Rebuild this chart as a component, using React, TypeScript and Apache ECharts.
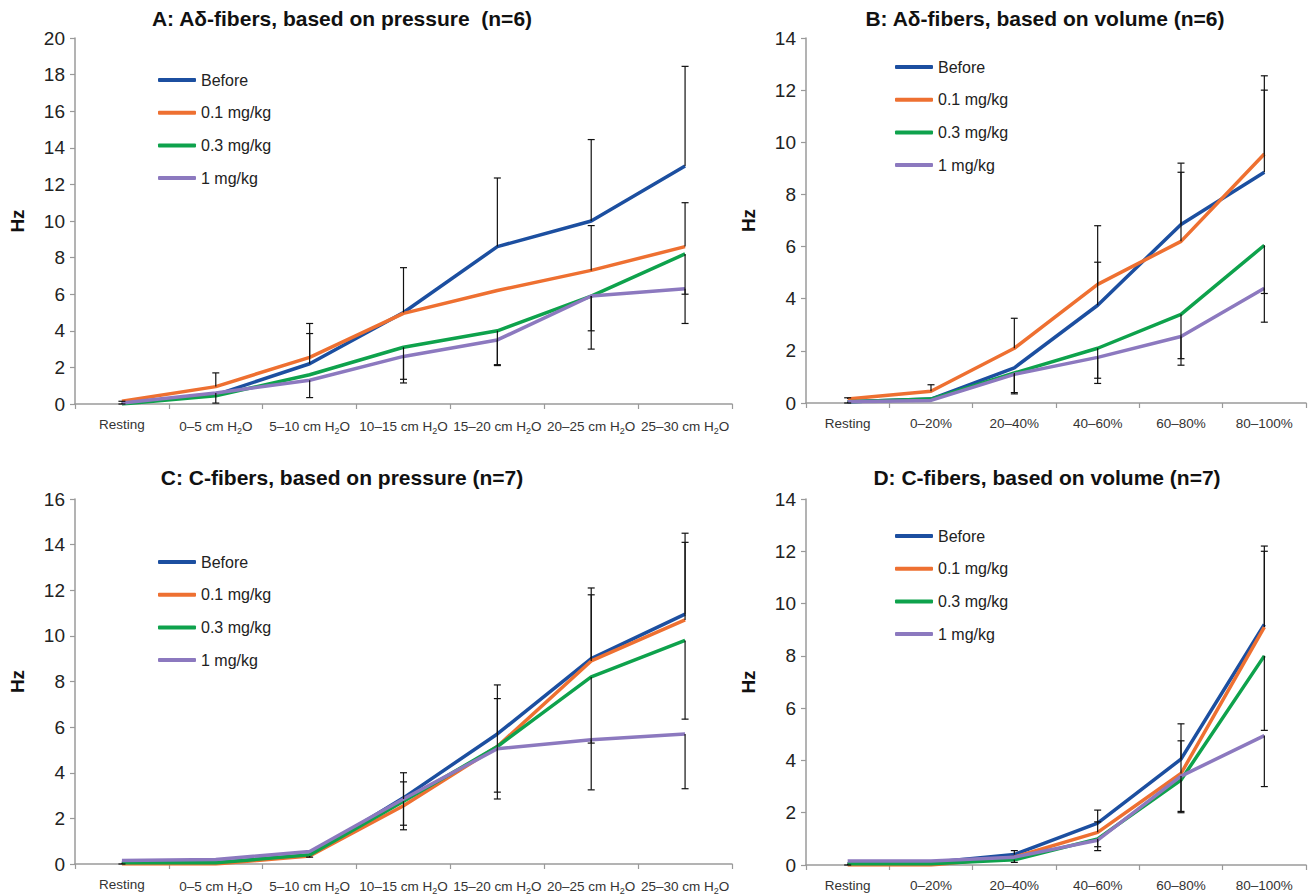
import React, { useEffect, useRef } from "react";
import * as echarts from "echarts";

const seriesNames = ["Before", "0.1 mg/kg", "0.3 mg/kg", "1 mg/kg"];
const colors = ["#1C4FA0", "#EE7031", "#0EA24C", "#8C79BF"];

const pressureCats = ["Resting", "0–5 cm H2O", "5–10 cm H2O", "10–15 cm H2O", "15–20 cm H2O", "20–25 cm H2O", "25–30 cm H2O"];
const volumeCats = ["Resting", "0–20%", "20–40%", "40–60%", "60–80%", "80–100%"];

// Panel A: Aδ-fibers, pressure
const aBefore = [0.05, 0.5, 2.2, 5.0, 8.6, 10.0, 13.0];
const aLow = [0.15, 0.95, 2.55, 4.95, 6.2, 7.3, 8.6];
const aMid = [0.0, 0.45, 1.6, 3.1, 4.0, 5.9, 8.2];
const aHigh = [0.05, 0.6, 1.3, 2.6, 3.5, 5.9, 6.3];
const aErr = [
  [0, 0.1, 0.15], [0, 0.05, 0.0],
  [1, 0.95, 1.7], [1, 0.6, 0.05],
  [2, 2.55, 4.4], [2, 2.2, 3.85], [2, 1.3, 0.35],
  [3, 5.0, 7.45], [3, 3.1, 1.35], [3, 2.6, 1.15],
  [4, 8.6, 12.35], [4, 4.0, 2.15], [4, 3.5, 2.1],
  [5, 10.0, 14.45], [5, 7.3, 9.75], [5, 5.9, 4.0], [5, 5.9, 3.0],
  [6, 13.0, 18.45], [6, 8.6, 11.0], [6, 8.2, 6.0], [6, 6.3, 4.4],
];

// Panel B: Aδ-fibers, volume
const bBefore = [0.05, 0.15, 1.35, 3.75, 6.85, 8.85];
const bLow = [0.15, 0.45, 2.1, 4.55, 6.2, 9.55];
const bMid = [0.05, 0.15, 1.15, 2.1, 3.4, 6.05];
const bHigh = [0.05, 0.1, 1.1, 1.75, 2.55, 4.4];
const bErr = [
  [0, 0.15, 0.2], [0, 0.05, 0.0],
  [1, 0.45, 0.7],
  [2, 2.1, 3.25], [2, 1.15, 0.4], [2, 1.1, 0.35],
  [3, 4.55, 6.8], [3, 3.75, 5.4], [3, 2.1, 0.95], [3, 1.75, 0.75],
  [4, 6.85, 9.2], [4, 6.2, 8.85], [4, 3.4, 1.7], [4, 2.55, 1.45],
  [5, 9.55, 12.55], [5, 8.85, 12.0], [5, 6.05, 4.2], [5, 4.4, 3.1],
];

// Panel C: C-fibers, pressure
const cBefore = [0.05, 0.05, 0.4, 2.9, 5.7, 9.0, 10.95];
const cLow = [0.0, 0.0, 0.35, 2.55, 5.15, 8.9, 10.7];
const cMid = [0.05, 0.05, 0.4, 2.75, 5.15, 8.2, 9.8];
const cHigh = [0.15, 0.2, 0.55, 2.85, 5.05, 5.45, 5.7];
const cErr = [
  [0, 0.05, 0.0],
  [2, 0.35, 0.3],
  [3, 2.9, 4.0], [3, 2.85, 3.6], [3, 2.75, 1.7], [3, 2.55, 1.5],
  [4, 5.7, 7.85], [4, 5.15, 7.25], [4, 5.15, 3.15], [4, 5.05, 2.85],
  [5, 9.0, 12.1], [5, 8.9, 11.8], [5, 8.2, 5.3], [5, 5.45, 3.25],
  [6, 10.95, 14.5], [6, 10.7, 14.1], [6, 9.8, 6.35], [6, 5.7, 3.3],
];

// Panel D: C-fibers, volume
const dBefore = [0.05, 0.1, 0.4, 1.6, 4.05, 9.2];
const dLow = [0.0, 0.0, 0.3, 1.25, 3.5, 9.1];
const dMid = [0.05, 0.05, 0.2, 1.0, 3.25, 8.0];
const dHigh = [0.15, 0.15, 0.3, 0.95, 3.4, 4.95];
const dErr = [
  [0, 0.05, 0.0],
  [2, 0.4, 0.55], [2, 0.2, 0.1],
  [3, 1.6, 2.1], [3, 1.25, 1.65], [3, 1.0, 0.7], [3, 0.95, 0.55],
  [4, 4.05, 5.4], [4, 3.5, 4.75], [4, 3.25, 2.05], [4, 3.4, 2.0],
  [5, 9.2, 12.2], [5, 9.1, 12.0], [5, 8.0, 5.15], [5, 4.95, 3.0],
];

const titles = [
  "A: Aδ-fibers, based on pressure  (n=6)",
  "B: Aδ-fibers, based on volume (n=6)",
  "C: C-fibers, based on pressure (n=7)",
  "D: C-fibers, based on volume (n=7)",
];
const yMax = [20, 14, 16, 14];

const FONT = "'Liberation Sans', Arial, sans-serif";

export default function App() {
  const ref = useRef<HTMLDivElement>(null);
  useEffect(() => {
    if (!ref.current) return;
    const chart = echarts.init(ref.current, undefined, { renderer: "svg" });

    const panels = [
      { cats: pressureCats, vals: [aBefore, aLow, aMid, aHigh], err: aErr },
      { cats: volumeCats, vals: [bBefore, bLow, bMid, bHigh], err: bErr },
      { cats: pressureCats, vals: [cBefore, cLow, cMid, cHigh], err: cErr },
      { cats: volumeCats, vals: [dBefore, dLow, dMid, dHigh], err: dErr },
    ];

    const grids = [
      { left: 75, top: 38, width: 657, height: 366 },
      { left: 806, top: 38, width: 500, height: 365 },
      { left: 75, top: 499, width: 657, height: 366 },
      { left: 806, top: 499, width: 500, height: 366 },
    ];
    const titlePos = [
      { left: 342, top: 8 },
      { left: 1045, top: 8 },
      { left: 342, top: 467 },
      { left: 1047, top: 467 },
    ];
    const legendPos = [
      { left: 158, top: 71 },
      { left: 895, top: 58 },
      { left: 158, top: 553 },
      { left: 895, top: 527 },
    ];

    const axisLine = { show: true, lineStyle: { color: "#9a9a9a", width: 1.5 } };

    const series: any[] = [];
    panels.forEach((p, gi) => {
      p.vals.forEach((v, si) => {
        series.push({
          type: "line",
          name: seriesNames[si],
          xAxisIndex: gi,
          yAxisIndex: gi,
          data: v,
          showSymbol: false,
          symbol: "none",
          lineStyle: { color: colors[si], width: 3.5 },
          itemStyle: { color: colors[si] },
          z: 2 + si,
        });
      });
      series.push({
        type: "custom",
        name: "err" + gi,
        xAxisIndex: gi,
        yAxisIndex: gi,
        data: p.err,
        z: 10,
        silent: true,
        encode: { x: 0, y: [1, 2] },
        renderItem: (params: any, api: any) => {
          const c = api.value(0);
          const p0 = api.coord([c, api.value(1)]);
          const p1 = api.coord([c, api.value(2)]);
          const hw = 3.5;
          const style = { stroke: "#111", lineWidth: 1.2 };
          return {
            type: "group",
            children: [
              { type: "line", shape: { x1: p0[0], y1: p0[1], x2: p1[0], y2: p1[1] }, style },
              { type: "line", shape: { x1: p1[0] - hw, y1: p1[1], x2: p1[0] + hw, y2: p1[1] }, style },
            ],
          };
        },
      });
    });

    const option: any = {
      animation: false,
      backgroundColor: "#ffffff",
      textStyle: { fontFamily: FONT },
      title: titles.map((t, i) => ({
        text: t,
        left: titlePos[i].left,
        top: titlePos[i].top,
        textAlign: "center",
        padding: 0,
        textStyle: { fontFamily: FONT, fontSize: 21, fontWeight: "bold", color: "#111" },
      })),
      legend: legendPos.map((lp) => ({
        data: seriesNames,
        orient: "vertical",
        left: lp.left,
        top: lp.top,
        padding: 0,
        icon: "roundRect",
        itemWidth: 38,
        itemHeight: 4,
        itemGap: 14.7,
        selectedMode: false,
        textStyle: { fontFamily: FONT, fontSize: 16, color: "#222", lineHeight: 18 },
      })),
      grid: grids.map((g) => ({ ...g, containLabel: false })),
      xAxis: panels.map((p, i) => ({
        type: "category",
        gridIndex: i,
        data: p.cats,
        boundaryGap: true,
        axisLine,
        axisTick: { show: true, length: 5, lineStyle: { color: "#9a9a9a", width: 1.2 } },
        axisLabel: {
          interval: 0,
          margin: 13,
          fontFamily: FONT,
          fontSize: 13.5,
          color: "#333",
          formatter: (v: string) => v.replace("H2O", "H{sub|2}O"),
          rich: {
            sub: { fontSize: 9, fontFamily: FONT, color: "#333", padding: [9, 0, 0, 0] },
          },
        },
        splitLine: { show: false },
      })),
      yAxis: panels.map((p, i) => ({
        type: "value",
        gridIndex: i,
        min: 0,
        max: yMax[i],
        interval: 2,
        name: "Hz",
        nameLocation: "middle",
        nameRotate: 90,
        nameGap: 48,
        nameTextStyle: { fontFamily: FONT, fontSize: 19, fontWeight: "bold", color: "#111" },
        axisLine,
        axisTick: { show: true, length: 5, lineStyle: { color: "#9a9a9a", width: 1.2 } },
        axisLabel: { fontFamily: FONT, fontSize: 19, color: "#222", margin: 10 },
        splitLine: { show: false },
      })),
      series,
    };
    chart.setOption(option);
    return () => chart.dispose();
  }, []);
  return <div ref={ref} style={{ position: "absolute", left: 0, top: 0, width: 1309, height: 895 }} />;
}
